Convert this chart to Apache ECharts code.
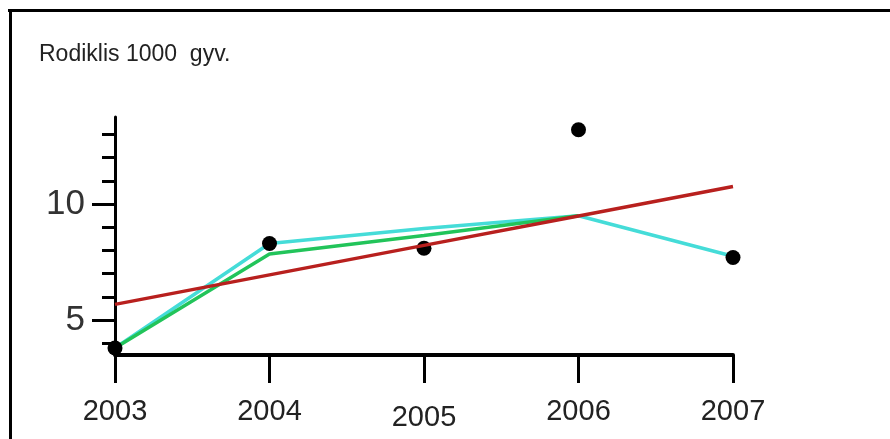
<!DOCTYPE html>
<html>
<head>
<meta charset="utf-8">
<script src="https://cdn.jsdelivr.net/npm/echarts@6/dist/echarts.min.js"></script>
<style>
  html, body { margin: 0; padding: 0; background: #fff; }
  #chart { width: 890px; height: 439px; }
</style>
</head>
<body>
<div id="chart"></div>
<script>
// Years on the horizontal axis
const years = ['2003', '2004', '2005', '2006', '2007'];
// Observed values (black points)
const observed = [3.8, 8.3, 8.1, 13.2, 7.7];
// Linear trend (red)
const trend = [5.68, 6.95, 8.22, 9.49, 10.76];
// Smoothed line (cyan)
const smoothA = [3.8, 8.3, 8.95, 9.5, 7.75];
// Smoothed line (green)
const smoothB = [3.8, 7.85, 8.65, 9.5, null];
// Tick positions on the value axis
const minorTicks = [4, 5, 6, 7, 8, 9, 10, 11, 12, 13];
const majorTicks = [5, 10];

const FONT = '"Liberation Sans", Arial, sans-serif';
const yMin = 3.5, yMax = 13.75;

const chart = echarts.init(document.getElementById('chart'), null, { renderer: 'canvas' });

chart.setOption({
  animation: false,
  backgroundColor: '#ffffff',
  title: {
    text: 'Rodiklis 1000  gyv.',
    left: 34, top: 38,
    textStyle: { fontFamily: FONT, fontSize: 23, fontWeight: 'normal', color: '#222' }
  },
  graphic: [
    { type: 'line', shape: { x1: 8, y1: 10.5, x2: 890, y2: 10.5 }, style: { stroke: '#000', lineWidth: 3 } },
    { type: 'line', shape: { x1: 10.5, y1: 9, x2: 10.5, y2: 439 }, style: { stroke: '#000', lineWidth: 3 } }
  ],
  grid: { left: 115, right: 157, top: 117, bottom: 84, containLabel: false },
  xAxis: {
    type: 'category',
    data: years,
    boundaryGap: false,
    axisLine: { lineStyle: { color: '#000', width: 4 } },
    axisTick: { alignWithLabel: true, interval: 0, length: 28, lineStyle: { color: '#000', width: 3 } },
    axisLabel: {
      interval: 0, hideOverlap: false,
      margin: 42, fontFamily: FONT, fontSize: 29, color: '#222',
      formatter: function (v) { return v === '2005' ? '{low|' + v + '}' : v; },
      rich: { low: { fontFamily: FONT, fontSize: 29, color: '#222', padding: [6, 0, 0, 0] } }
    },
    splitLine: { show: false }
  },
  yAxis: [
    {
      type: 'value', min: yMin, max: yMax,
      axisLine: { show: true, lineStyle: { color: '#000', width: 3 } },
      axisTick: { show: true, length: 13, customValues: minorTicks, lineStyle: { color: '#000', width: 3 } },
      axisLabel: { show: false },
      splitLine: { show: false }
    },
    {
      type: 'value', min: yMin, max: yMax, position: 'left',
      axisLine: { show: false },
      axisTick: { show: true, length: 23, customValues: majorTicks, lineStyle: { color: '#000', width: 3 } },
      axisLabel: { show: true, customValues: majorTicks, margin: 30, fontFamily: FONT, fontSize: 35, color: '#333' },
      splitLine: { show: false }
    }
  ],
  series: [
    {
      name: 'cyan', type: 'line', data: smoothA, z: 2,
      symbol: 'none', lineStyle: { color: '#45dcd8', width: 3.5 }
    },
    {
      name: 'green', type: 'line', data: smoothB, z: 3,
      symbol: 'none', lineStyle: { color: '#22c45a', width: 3.5 }
    },
    {
      name: 'observed', type: 'scatter', data: observed, z: 4,
      symbol: 'circle', symbolSize: 15, itemStyle: { color: '#000', opacity: 1 }
    },
    {
      name: 'trend', type: 'line', data: trend, z: 5,
      symbol: 'none', lineStyle: { color: '#b8201e', width: 3.5 }
    }
  ]
});
</script>
</body>
</html>
